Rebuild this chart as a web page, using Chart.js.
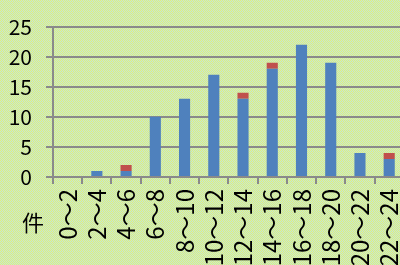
<!DOCTYPE html>
<html>
<head>
<meta charset="utf-8">
<script src="https://cdn.jsdelivr.net/npm/chart.js@4"></script>
<style>
  html, body { margin: 0; padding: 0; overflow: hidden; background: #d4eba6; }
  #wrap { width: 400px; height: 265px; overflow: hidden; }
</style>
</head>
<body>
<div id="wrap"><canvas id="myChart" width="423" height="300"></canvas></div>
<script>
let labels = ['0～2', '2～4', '4～6', '6～8', '8～10', '10～12', '12～14', '14～16', '16～18', '18～20', '20～22', '22～24'];
let blueVals = [0, 1, 1, 10, 13, 17, 13, 18, 22, 19, 4, 3];
let redVals = [0, 0, 1, 0, 0, 0, 1, 1, 0, 0, 0, 1];
let yTicks = [0, 5, 10, 15, 20, 25];
let unitLabel = '件';

// textured yellow / pale cyan background
var tile = document.createElement('canvas');
tile.width = 2; tile.height = 2;
var tctx = tile.getContext('2d');
tctx.fillStyle = '#c4e6d4';
tctx.fillRect(0, 0, 2, 2);
tctx.fillStyle = '#e0f07c';
tctx.fillRect(0, 0, 1, 1);
tctx.fillRect(1, 1, 1, 1);

var bgPlugin = {
  id: 'bg',
  beforeDraw: function(chart) {
    var c = chart.ctx;
    c.save();
    c.fillStyle = c.createPattern(tile, 'repeat');
    c.fillRect(0, 0, chart.width, chart.height);
    c.restore();
  },
  afterDraw: function(chart) {
    var c = chart.ctx;
    c.save();
    c.fillStyle = '#000';
    c.font = '22px "Noto Sans CJK JP"';
    c.textAlign = 'center';
    c.textBaseline = 'middle';
    c.fillText(unitLabel, chart.chartArea.left - 20, chart.chartArea.bottom + 46);
    c.restore();
  }
};

var font = '"Noto Sans CJK JP", "Noto Sans", sans-serif';
var gray = '#8a8a8a';

var ctx = document.getElementById('myChart').getContext('2d');
var myChart = new Chart(ctx, {
  type: 'bar',
  data: {
    labels: labels,
    datasets: [{
      data: blueVals,
      backgroundColor: '#4f81bd',
      barPercentage: 0.38,
      categoryPercentage: 1
    }, {
      data: redVals,
      backgroundColor: '#c0504d',
      barPercentage: 0.38,
      categoryPercentage: 1
    }]
  },
  options: {
    responsive: false,
    animation: false,
    layout: { padding: { top: 24, left: 0, right: 0, bottom: 0 } },
    plugins: { legend: { display: false }, tooltip: { enabled: false } },
    scales: {
      x: {
        stacked: true,
        offset: true,
        grid: { display: true, drawOnChartArea: false, drawTicks: true, tickLength: 7, color: gray, lineWidth: 2, offset: true },
        border: { color: gray, width: 2 },
        ticks: {
          autoSkip: false, minRotation: 90, maxRotation: 90, padding: 5,
          color: '#000', font: { family: font, size: 24 }
        },
        afterFit: function(scale) { scale.height = 300 - 177; }
      },
      y: {
        stacked: true,
        min: 0,
        max: 25,
        afterBuildTicks: function(scale) { scale.ticks = yTicks.map(function(v) { return { value: v }; }); },
        grid: { color: gray, lineWidth: 2, tickLength: 7 },
        border: { color: gray, width: 2 },
        ticks: { color: '#000', padding: 14, font: { family: font, size: 21 } },
        afterFit: function(scale) { scale.width = 53; }
      }
    }
  },
  plugins: [bgPlugin]
});
</script>
</body>
</html>
